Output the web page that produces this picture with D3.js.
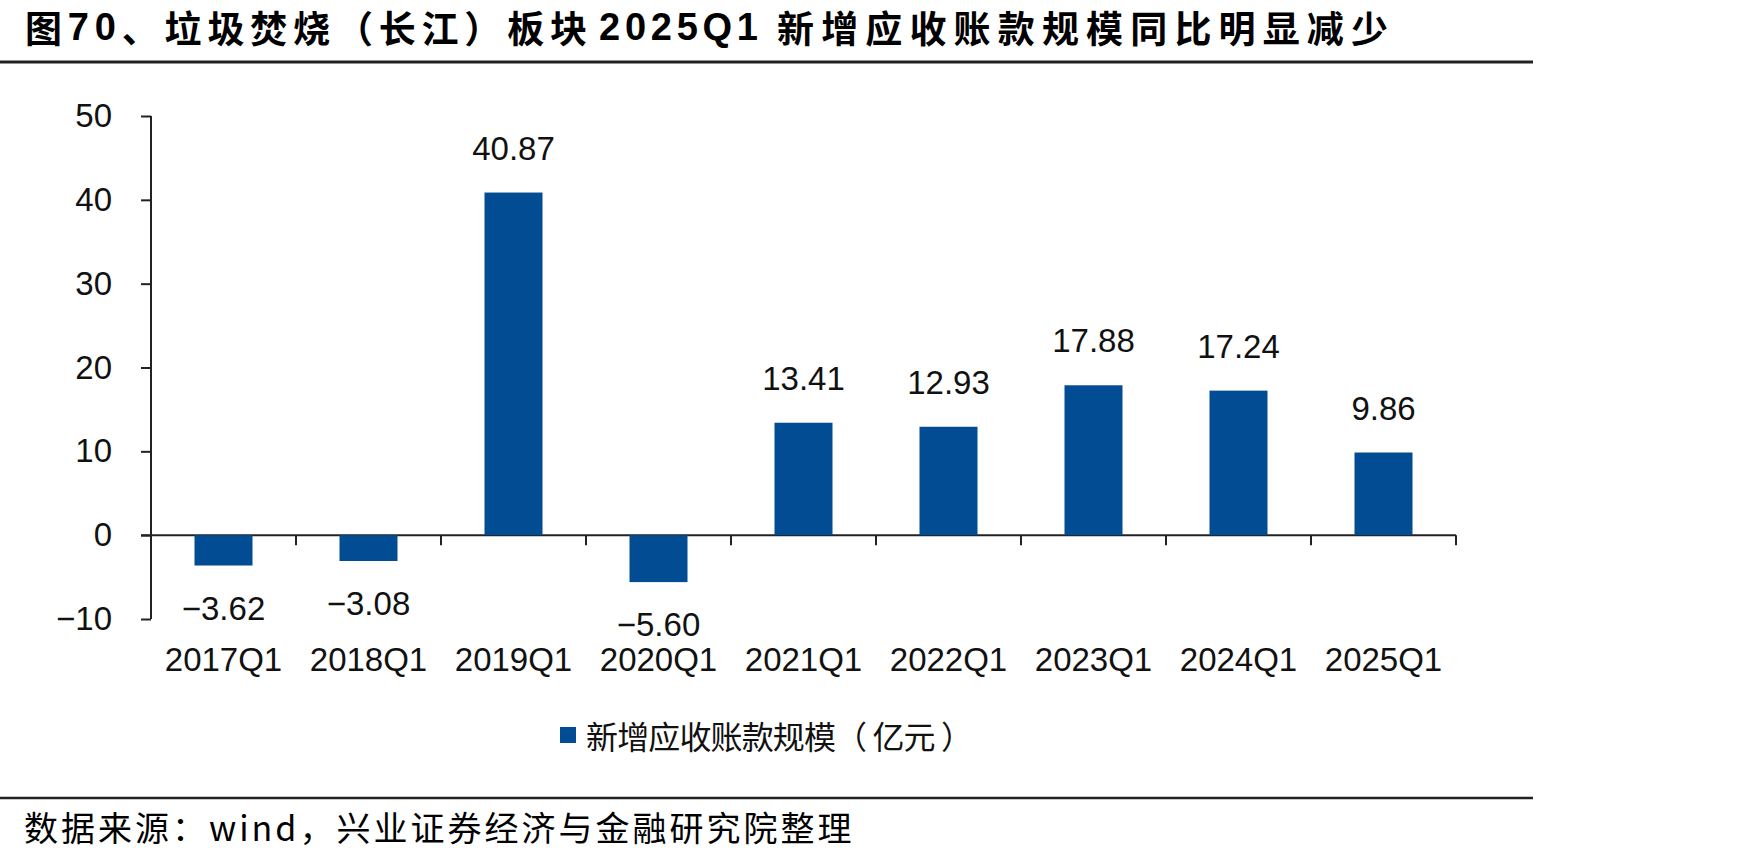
<!DOCTYPE html>
<html>
<head>
<meta charset="utf-8">
<script src="https://cdn.jsdelivr.net/npm/d3@7"></script>
<style>
  body { margin: 0; background: #fff; }
  svg { display: block; }
  .cn { font-family: "Noto Sans CJK SC", sans-serif; }
  .num { font-family: "Liberation Sans", Arial, sans-serif; }
</style>
</head>
<body>
<div id="app"></div>
<script>
const categories = ['2017Q1','2018Q1','2019Q1','2020Q1','2021Q1','2022Q1','2023Q1','2024Q1','2025Q1']
const values = [-3.62, -3.08, 40.87, -5.60, 13.41, 12.93, 17.88, 17.24, 9.86]
const yTicks = [-10, 0, 10, 20, 30, 40, 50]
const seriesName = '新增应收账款规模（ 亿元 ）'
// title, split in three runs: [[text, isLatin], ...]
const titleRuns = [
    [['图', false], ['70', true], ['、垃圾焚烧（长江）板块', false]],
    [['2025Q1', true]],
    [['新增应收账款规模同比明显减少', false]]
]
const sourceText = '数据来源：wind，兴业证券经济与金融研究院整理'

const width = 1748, height = 859
const barColor = '#024C94'

const svg = d3.select('#app').append('svg')
    .attr('width', width)
    .attr('height', height)

// title runs: start x and width of each run
const runPos = [[25, 562], [599, 159], [777, 611]]
titleRuns.forEach((run, i) => {
    const t = svg.append('text')
        .attr('class', 'cn')
        .attr('x', runPos[i][0]).attr('y', 27)
        .attr('dominant-baseline', 'central')
        .attr('font-size', 37)
        .attr('font-weight', 'bold')
        .attr('textLength', runPos[i][1])
        .attr('lengthAdjust', 'spacing')
    t.selectAll('tspan')
        .data(run).enter()
        .append('tspan')
        .attr('font-family', d => d[1] ? '"Liberation Sans", Arial, sans-serif' : null)
        .attr('font-size', d => d[1] ? 38 : null)
        .text(d => d[0])
})

svg.append('line').attr('x1', 0).attr('x2', 1533).attr('y1', 62).attr('y2', 62)
    .attr('stroke', '#222').attr('stroke-width', 3)
svg.append('line').attr('x1', 0).attr('x2', 1533).attr('y1', 798).attr('y2', 798)
    .attr('stroke', '#222').attr('stroke-width', 2.5)

svg.append('text')
    .attr('class', 'cn')
    .attr('x', 24).attr('y', 826)
    .attr('dominant-baseline', 'central')
    .attr('font-size', 34)
    .attr('letter-spacing', 3)
    .text(sourceText)

// scales
const x = d3.scaleBand().domain(categories).range([151, 1456]).paddingInner(0.6).paddingOuter(0.3)
const xEdge = d3.scaleBand().domain(categories).range([151, 1456]).padding(0)
const y = d3.scaleLinear().domain([-10, 50]).range([619, 116])
const fmt = d3.format('.2f')

// y axis
const yAxis = svg.append('g')
    .attr('transform', 'translate(151,0)')
    .call(d3.axisLeft(y).tickValues(yTicks).tickSize(10).tickPadding(29).tickFormat(d3.format('d')))
yAxis.select('.domain').attr('d', `M0,${y(-10)}V${y(50)}`).attr('stroke', '#222').attr('stroke-width', 2)
yAxis.selectAll('.tick line').attr('stroke', '#222').attr('stroke-width', 2)
yAxis.selectAll('.tick text')
    .attr('class', 'num')
    .attr('font-size', 33)
    .attr('fill', '#111')

// x axis on zero line, ticks at band edges
const xAxis = svg.append('g').attr('transform', `translate(0,${y(0)})`)
xAxis.append('line').attr('x1', 141).attr('x2', 1456).attr('y1', 0).attr('y2', 0)
    .attr('stroke', '#222').attr('stroke-width', 2)
xAxis.selectAll('line.tk')
    .data(categories).enter()
    .append('line').attr('class', 'tk')
    .attr('x1', d => xEdge(d) + xEdge.bandwidth())
    .attr('x2', d => xEdge(d) + xEdge.bandwidth())
    .attr('y1', 0).attr('y2', 10)
    .attr('stroke', '#222').attr('stroke-width', 2)

svg.selectAll('text.cat')
    .data(categories).enter()
    .append('text').attr('class', 'cat num')
    .attr('x', d => x(d) + x.bandwidth() / 2)
    .attr('y', 671)
    .attr('text-anchor', 'middle')
    .attr('font-size', 33)
    .attr('fill', '#111')
    .text(d => d)

// bars
const data = categories.map((c, i) => ({cat: c, value: values[i]}))
svg.selectAll('rect.bar')
    .data(data).enter()
    .append('rect').attr('class', 'bar')
    .attr('x', d => x(d.cat))
    .attr('width', x.bandwidth())
    .attr('y', d => y(Math.max(0, d.value)))
    .attr('height', d => Math.abs(y(d.value) - y(0)))
    .attr('fill', barColor)

svg.selectAll('text.lbl')
    .data(data).enter()
    .append('text').attr('class', 'lbl num')
    .attr('x', d => x(d.cat) + x.bandwidth() / 2)
    .attr('y', d => d.value >= 0 ? y(d.value) - 33 : y(d.value) + 54)
    .attr('text-anchor', 'middle')
    .attr('font-size', 33)
    .attr('fill', '#111')
    .text(d => fmt(d.value))

// legend
const legend = svg.append('g').attr('transform', 'translate(560,727)')
legend.append('rect').attr('width', 16).attr('height', 16).attr('fill', barColor)
legend.append('text')
    .attr('class', 'cn')
    .attr('x', 26).attr('y', 8)
    .attr('dominant-baseline', 'central')
    .attr('font-size', 32)
    .attr('fill', '#111')
    .attr('textLength', 387)
    .attr('lengthAdjust', 'spacing')
    .text(seriesName)
</script>
</body>
</html>
